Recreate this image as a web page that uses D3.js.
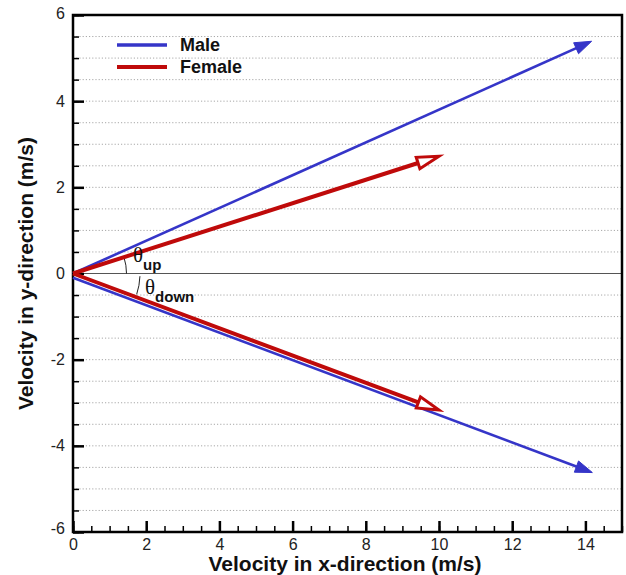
<!DOCTYPE html>
<html>
<head>
<meta charset="utf-8">
<script src="https://cdn.jsdelivr.net/npm/d3@7/dist/d3.min.js"></script>
<style>
  html, body { margin: 0; padding: 0; background: #fff; }
  svg { display: block; font-family: Arial, "Liberation Sans", sans-serif; }
</style>
</head>
<body>
<svg id="chart" width="626" height="575"></svg>
<script>
// Velocity vectors: [x0, y0, x1, y1] in m/s
const series = ["Male", "Female"];
const maleVectors = [
  [0, 0, 14.17, 5.39],
  [0, -0.1, 14.19, -4.62]
];
const femaleVectors = [
  [0, 0, 10.0, 2.72],
  [0, 0, 10.0, -3.17]
];
const xTicks = [0, 2, 4, 6, 8, 10, 12, 14];
const yTicks = [-6, -4, -2, 0, 2, 4, 6];
const xDomain = [0, 15];
const yDomain = [-6, 6];

const colors = { Male: "#3535c8", Female: "#bf0a0a" };

const svg = d3.select("#chart");
const margin = { left: 73, top: 15, right: 4, bottom: 43 };
const W = 626, H = 575;
const x = d3.scaleLinear().domain(xDomain).range([margin.left, W - margin.right]);
const y = d3.scaleLinear().domain(yDomain).range([H - margin.bottom, margin.top]);
const plain = d => String(d);

// Dotted grid lines every 0.5 m/s
const gridVals = d3.range(-5.5, 6, 0.5).filter(v => Math.abs(v) > 1e-9);
svg.append("g").selectAll("line").data(gridVals).join("line")
  .attr("x1", x(0)).attr("x2", x(15))
  .attr("y1", d => y(d)).attr("y2", d => y(d))
  .attr("stroke", "#a8a8a8").attr("stroke-width", 1)
  .attr("stroke-dasharray", "1.2,2");

// Zero line
svg.append("line")
  .attr("x1", x(0)).attr("x2", x(15))
  .attr("y1", y(0)).attr("y2", y(0))
  .attr("stroke", "#555").attr("stroke-width", 1);

// Axes with inward ticks
const xMinor = d3.range(0, 15.01, 0.5);
const yMinor = d3.range(-6, 6.01, 0.5);
const xAxisG = svg.append("g").attr("transform", `translate(0,${y(-6)})`)
  .call(d3.axisBottom(x).tickValues(xMinor).tickSize(-6).tickFormat(""));
xAxisG.select(".domain").remove();
xAxisG.selectAll("line").attr("stroke", "#000").attr("stroke-width", 1.5);
const xMajor = svg.append("g").attr("transform", `translate(0,${y(-6)})`)
  .call(d3.axisBottom(x).tickValues(xTicks).tickSize(-11).tickPadding(7).tickFormat(plain));
xMajor.select(".domain").remove();
xMajor.selectAll("line").attr("stroke", "#000").attr("stroke-width", 2.5);
xMajor.selectAll("text").attr("font-size", 16).attr("fill", "#222")
  .attr("font-family", "Arial, 'Liberation Sans', sans-serif");

const yAxisG = svg.append("g").attr("transform", `translate(${x(0)},0)`)
  .call(d3.axisLeft(y).tickValues(yMinor).tickSize(-6).tickFormat(""));
yAxisG.select(".domain").remove();
yAxisG.selectAll("line").attr("stroke", "#000").attr("stroke-width", 1.5);
const yMajor = svg.append("g").attr("transform", `translate(${x(0)},0)`)
  .call(d3.axisLeft(y).tickValues(yTicks).tickSize(-11).tickPadding(8).tickFormat(plain));
yMajor.select(".domain").remove();
yMajor.selectAll("line").attr("stroke", "#000").attr("stroke-width", 2.5);
yMajor.selectAll("text").attr("font-size", 16).attr("fill", "#222")
  .attr("font-family", "Arial, 'Liberation Sans', sans-serif")
  .attr("dy", d => d === -6 ? "0.1em" : d === 6 ? "0.2em" : "0.32em");

// Frame
svg.append("rect")
  .attr("x", x(0)).attr("y", y(6))
  .attr("width", x(15) - x(0)).attr("height", y(-6) - y(6))
  .attr("fill", "none").attr("stroke", "#000").attr("stroke-width", 2.5);

// Angle markers
const ox = x(0), oy = y(0);
function angleOf(v) {
  return Math.atan2(-(y(v[3]) - y(v[1])), x(v[2]) - x(v[0]));
}
const aUp = angleOf(femaleVectors[0]);
const aDown = angleOf(femaleVectors[1]);
function arcPath(r, a0, a1) {
  const p0 = [ox + r * Math.cos(a0), oy - r * Math.sin(a0)];
  const p1 = [ox + r * Math.cos(a1), oy - r * Math.sin(a1)];
  const sweep = a1 < a0 ? 1 : 0;
  return `M${p0[0]},${p0[1]} A${r},${r} 0 0 ${sweep} ${p1[0]},${p1[1]}`;
}
svg.append("path").attr("d", arcPath(53.5, aUp, 0))
  .attr("fill", "none").attr("stroke", "#222").attr("stroke-width", 1);
svg.append("path").attr("d", arcPath(67, -0.04, aDown + 0.04))
  .attr("fill", "none").attr("stroke", "#222").attr("stroke-width", 1);

// Vectors
function drawVector(v, color, width, head) {
  const x0 = x(v[0]), y0 = y(v[1]), x1 = x(v[2]), y1 = y(v[3]);
  const ang = Math.atan2(y1 - y0, x1 - x0);
  const g = svg.append("g");
  const L = head.len, hw = head.half;
  const bx = x1 - L * Math.cos(ang), by = y1 - L * Math.sin(ang);
  const px = -Math.sin(ang), py = Math.cos(ang);
  const tri = [[x1, y1], [bx + hw * px, by + hw * py], [bx - hw * px, by - hw * py]];
  const lineEnd = head.hollow ? [bx, by] : [bx + 2 * Math.cos(ang), by + 2 * Math.sin(ang)];
  g.append("line")
    .attr("x1", x0).attr("y1", y0).attr("x2", lineEnd[0]).attr("y2", lineEnd[1])
    .attr("stroke", color).attr("stroke-width", width);
  g.append("path")
    .attr("d", d3.line()(tri) + "Z")
    .attr("fill", head.hollow ? "#fff" : color)
    .attr("stroke", color)
    .attr("stroke-width", head.hollow ? 3 : 1)
    .attr("stroke-linejoin", "miter");
}
maleVectors.forEach(v => drawVector(v, colors.Male, 2.6, { len: 17, half: 6, hollow: false }));
femaleVectors.forEach(v => drawVector(v, colors.Female, 4, { len: 22, half: 6, hollow: true }));

// Theta labels
function theta(xp, yp, sub) {
  const t = svg.append("text").attr("x", xp).attr("y", yp)
    .attr("font-family", "'Times New Roman', 'Liberation Serif', serif")
    .attr("font-size", 21).attr("fill", "#111");
  t.append("tspan").text("θ");
  t.append("tspan").attr("dy", 8).attr("font-size", 15).attr("font-weight", "bold")
    .attr("font-family", "Arial, 'Liberation Sans', sans-serif").text(sub);
}
theta(133, 262, "up");
theta(145, 294, "down");

// Legend
const legend = svg.append("g");
series.forEach((s, i) => {
  const ly = 45 + i * 22;
  legend.append("line").attr("x1", 117).attr("x2", 167).attr("y1", ly).attr("y2", ly)
    .attr("stroke", colors[s]).attr("stroke-width", s === "Male" ? 3.5 : 4);
  legend.append("text").attr("x", 180).attr("y", ly + 6)
    .attr("font-size", 18).attr("font-weight", "bold").attr("fill", "#111").text(s);
});

// Axis titles
svg.append("text").attr("x", 345).attr("y", 571)
  .attr("text-anchor", "middle").attr("font-size", 21).attr("font-weight", "bold")
  .attr("fill", "#111").text("Velocity in x-direction (m/s)");
svg.append("text").attr("transform", `translate(33,${y(0)}) rotate(-90)`)
  .attr("text-anchor", "middle").attr("font-size", 21).attr("font-weight", "bold")
  .attr("fill", "#111").text("Velocity in y-direction (m/s)");
</script>
</body>
</html>
